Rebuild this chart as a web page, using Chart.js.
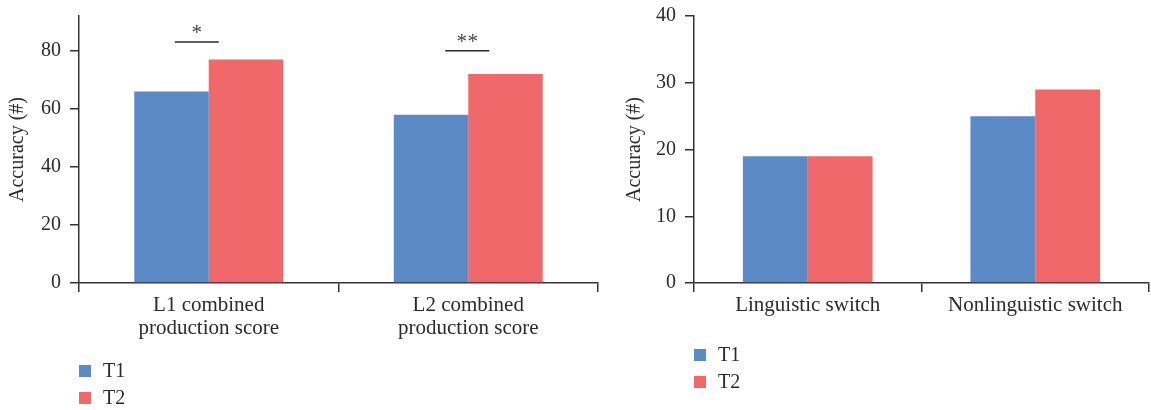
<!DOCTYPE html>
<html>
<head>
<meta charset="utf-8">
<script src="https://cdn.jsdelivr.net/npm/chart.js@4"></script>
<style>
  html, body { margin: 0; padding: 0; background: #fff; }
  body { width: 1151px; height: 410px; position: relative; overflow: hidden; }
  .box { position: absolute; top: 0; height: 410px; }
  #leftBox { left: 0; width: 600px; }
  #rightBox { left: 610px; width: 541px; }
</style>
</head>
<body>
<div class="box" id="leftBox"><canvas id="leftChart"></canvas></div>
<div class="box" id="rightBox"><canvas id="rightChart"></canvas></div>
<script>
// data
var seriesNames = ['T1', 'T2'];

var leftCategories = [['L1 combined', 'production score'], ['L2 combined', 'production score']];
var leftT1 = [66, 58];
var leftT2 = [77, 72];
var leftTicks = [0, 20, 40, 60, 80];
var leftSigMarks = ['*', '**'];
var leftSigLevels = [83, 80];

var rightCategories = ['Linguistic switch', 'Nonlinguistic switch'];
var rightT1 = [19, 25];
var rightT2 = [19, 29];
var rightTicks = [0, 10, 20, 30, 40];

var blue = '#5b8ac7';
var red = '#f0686a';
var ink = '#2b2b2b';
var serif = "'Liberation Serif', 'Times New Roman', serif";

Chart.defaults.font.family = serif;
Chart.defaults.color = ink;

// significance brackets drawn from the scales
var sigPlugin = {
    id: 'sigBars',
    afterDatasetsDraw: function(chart, args, opts) {
        if (!opts.items) return;
        var ctx = chart.ctx;
        var xs = chart.scales.x, ys = chart.scales.y;
        ctx.save();
        opts.items.forEach(function(it) {
            var cx = xs.getPixelForValue(it.index);
            var y = ys.getPixelForValue(it.level);
            var x1 = cx + it.from, x2 = cx + it.to;
            ctx.strokeStyle = ink;
            ctx.lineWidth = 1.5;
            ctx.beginPath();
            ctx.moveTo(x1, y);
            ctx.lineTo(x2, y);
            ctx.stroke();
            ctx.fillStyle = '#444';
            ctx.font = '21px ' + serif;
            ctx.textAlign = 'center';
            ctx.textBaseline = 'alphabetic';
            var chars = it.text.split('');
            var mid = (x1 + x2) / 2;
            chars.forEach(function(c, i) {
                var off = (i - (chars.length - 1) / 2) * 11;
                ctx.fillText(c, mid + off, y - 3);
            });
        });
        ctx.restore();
    }
};

// vertical legend with square swatches
var boxLegend = {
    id: 'boxLegend',
    afterDraw: function(chart, args, opts) {
        var ctx = chart.ctx;
        ctx.save();
        chart.data.datasets.forEach(function(ds, i) {
            var y = opts.y + i * opts.gap;
            ctx.fillStyle = ds.backgroundColor;
            ctx.fillRect(opts.x, y, 12, 12);
            ctx.fillStyle = ink;
            ctx.font = '20px ' + serif;
            ctx.textBaseline = 'middle';
            ctx.textAlign = 'left';
            ctx.fillText(ds.label, opts.x + 24, y + 7);
        });
        ctx.restore();
    }
};

function makeChart(id, cfg) {
    var axisStyle = { color: '#333', width: 1.5 };
    return new Chart(document.getElementById(id), {
        type: 'bar',
        data: {
            labels: cfg.labels,
            datasets: [
                { label: seriesNames[0], data: cfg.t1, backgroundColor: blue },
                { label: seriesNames[1], data: cfg.t2, backgroundColor: red }
            ]
        },
        options: {
            responsive: true,
            maintainAspectRatio: false,
            animation: false,
            events: [],
            layout: { padding: { left: 0, right: 2, top: 16, bottom: 0 } },
            datasets: {
                bar: { categoryPercentage: cfg.groupPct, barPercentage: 1 }
            },
            plugins: {
                legend: { display: false },
                tooltip: { enabled: false },
                sigBars: { items: cfg.sig },
                boxLegend: cfg.legend
            },
            scales: {
                x: {
                    border: axisStyle,
                    grid: { drawOnChartArea: false, tickLength: 9, color: '#333', lineWidth: 1.5 },
                    ticks: { font: { size: 21, lineHeight: 1.1 }, padding: 2, color: ink, maxRotation: 0 },
                    afterFit: function(s) {
                        s.height = 127;
                        s.paddingLeft = 0;
                        s.paddingRight = 0;
                    }
                },
                y: {
                    min: 0,
                    max: cfg.max,
                    border: axisStyle,
                    grid: { drawOnChartArea: false, tickLength: 9, color: '#333', lineWidth: 1.5 },
                    ticks: { font: { size: 20 }, padding: 9, color: ink },
                    afterBuildTicks: function(s) {
                        s.ticks = cfg.ticks.map(function(v) { return { value: v }; });
                    },
                    afterFit: function(s) {
                        s.width = cfg.yWidth;
                        s.paddingTop = 0;
                        s.paddingBottom = 0;
                    },
                    title: {
                        display: true,
                        text: 'Accuracy (#)',
                        font: { size: 20, lineHeight: 1.2 },
                        color: ink,
                        padding: { top: cfg.titlePad, bottom: 0 }
                    }
                }
            }
        },
        plugins: [sigPlugin, boxLegend]
    });
}

makeChart('leftChart', {
    labels: leftCategories,
    t1: leftT1,
    t2: leftT2,
    max: 92,
    ticks: leftTicks,
    groupPct: 0.574,
    yWidth: 79,
    titlePad: 6,
    legend: { x: 79, y: 365, gap: 27 },
    sig: [
        { index: 0, from: -34, to: 10, level: leftSigLevels[0], text: leftSigMarks[0] },
        { index: 1, from: -23, to: 21, level: leftSigLevels[1], text: leftSigMarks[1] }
    ]
});

makeChart('rightChart', {
    labels: rightCategories,
    t1: rightT1,
    t2: rightT2,
    max: 40,
    ticks: rightTicks,
    groupPct: 0.57,
    yWidth: 84,
    titlePad: 13,
    legend: { x: 84, y: 349, gap: 27 },
    sig: []
});
</script>
</body>
</html>
